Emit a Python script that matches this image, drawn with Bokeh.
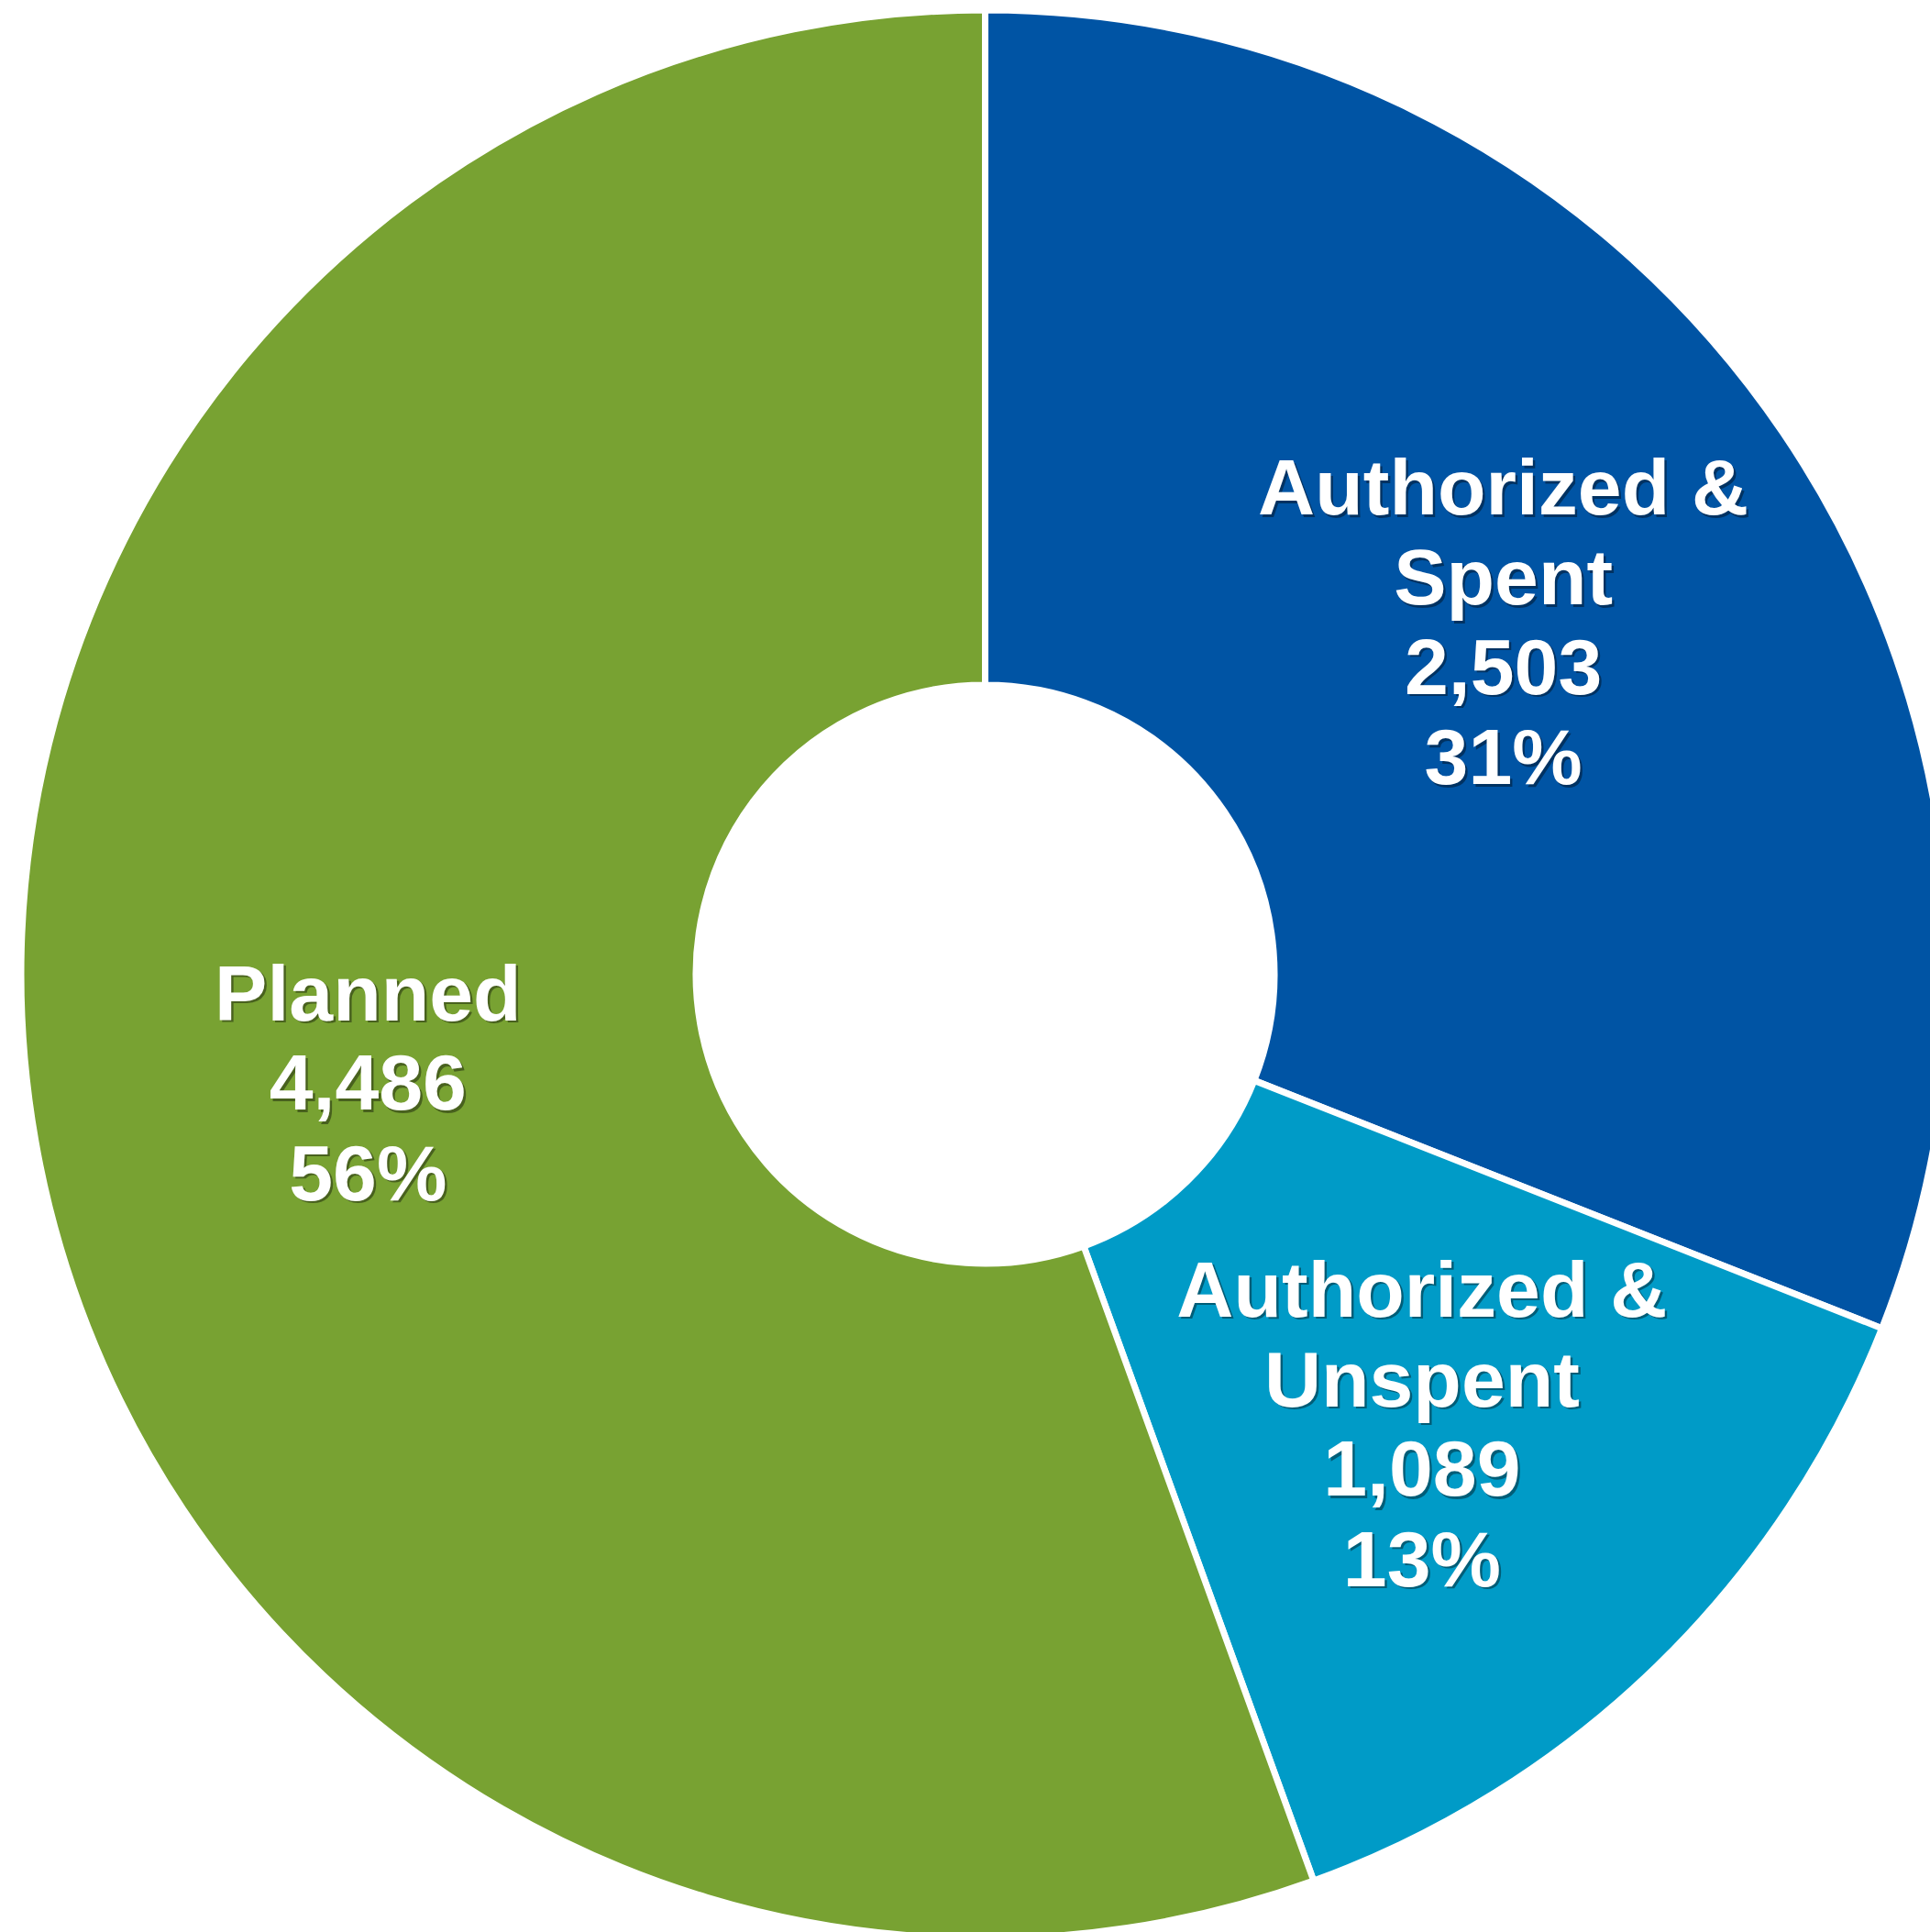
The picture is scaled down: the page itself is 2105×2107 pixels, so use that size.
import math
from bokeh.plotting import figure
from bokeh.models import Range1d, ColumnDataSource
from bokeh.core.properties import value
from bokeh.embed import file_html
from bokeh.resources import INLINE

# ---- data ----
categories = ["Authorized & Spent", "Authorized & Unspent", "Planned"]
label_lines = [["Authorized &", "Spent"], ["Authorized &", "Unspent"], ["Planned"]]
values = [2503, 1089, 4486]
colors = ["#0054A4", "#009BC7", "#78A232"]

# ---- geometry (reference pixel space) ----
W, H = 2105, 2107
CX, CY_PX = 1074, 1062
R_IN, R_OUT = 319, 1048
SEP = 7
CY = H - CY_PX

total = sum(values)
starts, ends, mids = [], [], []
acc = 0.0
for v in values:
    a0 = math.pi / 2 - acc / total * 2 * math.pi
    acc += v
    a1 = math.pi / 2 - acc / total * 2 * math.pi
    starts.append(a0)
    ends.append(a1)
    mids.append((a0 + a1) / 2)

p = figure(width=W, height=H, x_range=Range1d(0, W), y_range=Range1d(0, H),
           output_backend="svg", toolbar_location=None, min_border=0)
p.axis.visible = False
p.grid.visible = False
p.outline_line_color = None
p.background_fill_color = "white"
p.border_fill_color = "white"

src = ColumnDataSource(dict(x=[CX] * len(values), y=[CY] * len(values),
                            start=starts, end=ends, color=colors, cat=categories))
p.annular_wedge(x="x", y="y", inner_radius=R_IN - SEP / 2, outer_radius=R_OUT + SEP / 2,
                start_angle="start", end_angle="end", direction="clock",
                fill_color="color", line_color="white", line_width=SEP, source=src)

# labels
FS = 86
LH = 98
r_mid = (R_IN + R_OUT) / 2
tx, ty, tt = [], [], []
for lines, v, m in zip(label_lines, values, mids):
    rows = list(lines) + [f"{v:,}", f"{round(v / total * 100)}%"]
    n = len(rows)
    lx = CX + r_mid * math.cos(m)
    ly = CY + r_mid * math.sin(m)
    for i, s in enumerate(rows):
        tx.append(lx)
        ty.append(ly + ((n - 1) / 2 - i) * LH)
        tt.append(s)

sh = 2.5
p.text(x=[x + sh for x in tx], y=[y - sh for y in ty], text=tt,
       text_font=value("Liberation Sans"), text_font_style="bold", text_font_size=f"{FS}px",
       text_color="black", text_alpha=0.4, text_align="center", text_baseline="alphabetic")
p.text(x=tx, y=ty, text=tt,
       text_font=value("Liberation Sans"), text_font_style="bold", text_font_size=f"{FS}px",
       text_color="white", text_align="center", text_baseline="alphabetic")

open("out.html", "w").write(file_html(p, INLINE))
